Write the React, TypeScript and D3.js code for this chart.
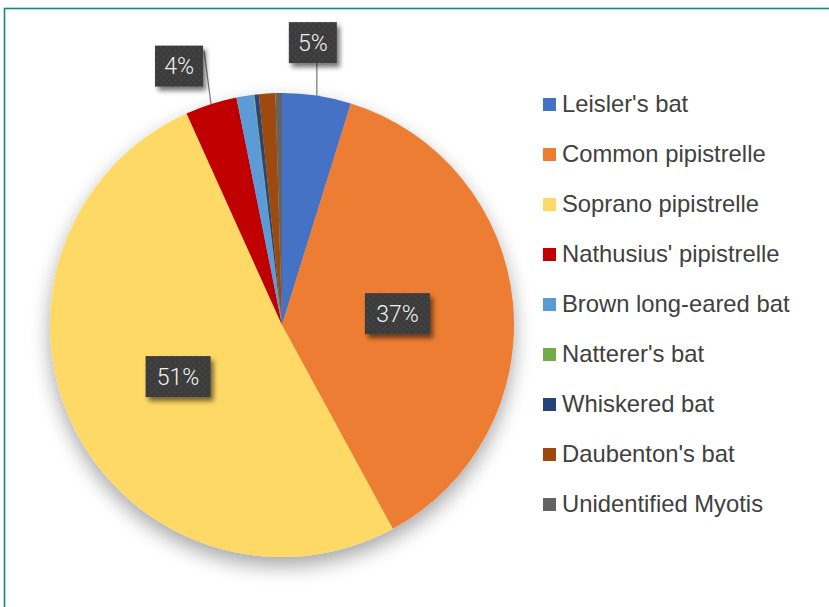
import React from "react";
import * as d3 from "d3";

const categories = [
  "Leisler's bat",
  "Common pipistrelle",
  "Soprano pipistrelle",
  "Nathusius' pipistrelle",
  "Brown long-eared bat",
  "Natterer's bat",
  "Whiskered bat",
  "Daubenton's bat",
  "Unidentified Myotis",
];
const values = [4.8, 37.3, 51.2, 3.6, 1.2, 0.05, 0.3, 1.15, 0.45];
const colors = ["#4472c4", "#ed7d31", "#ffd966", "#c00000", "#5b9bd5", "#70ad47", "#264478", "#9e480e", "#636363"];
const labelTexts = ["5%", "37%", "51%", "4%", "", "", "", "", ""];

const W = 829;
const H = 607;
const cx = 282;
const cy = 325;
const R = 232;

const outsideOffsets: Record<number, [number, number]> = {
  0: [-4, -53],
  3: [-32, -38],
};

export default function App() {
  const pie = d3.pie<number>().sort(null).value((d) => d)(values);
  const arc = d3.arc<d3.PieArcDatum<number>>().innerRadius(0).outerRadius(R);
  const labelArc = d3.arc<d3.PieArcDatum<number>>().innerRadius(R * 0.5).outerRadius(R * 0.5);

  const boxW = (t: string) => (t.length === 2 ? 48 : 65);
  const boxH = 41;

  return (
    <svg width={W} height={H} style={{ position: "absolute", left: 0, top: 0, background: "#fff" }}>
      <defs>
        <filter id="pieShadow" x="-20%" y="-20%" width="140%" height="140%">
          <feGaussianBlur in="SourceAlpha" stdDeviation="10" />
          <feOffset dx="0" dy="9" result="b" />
          <feComponentTransfer>
            <feFuncA type="linear" slope="0.35" />
          </feComponentTransfer>
          <feMerge>
            <feMergeNode />
            <feMergeNode in="SourceGraphic" />
          </feMerge>
        </filter>
        <filter id="boxShadow" x="-30%" y="-30%" width="160%" height="160%">
          <feGaussianBlur in="SourceAlpha" stdDeviation="2.5" />
          <feOffset dx="3" dy="4" />
          <feComponentTransfer>
            <feFuncA type="linear" slope="0.55" />
          </feComponentTransfer>
          <feMerge>
            <feMergeNode />
            <feMergeNode in="SourceGraphic" />
          </feMerge>
        </filter>
        <pattern id="dots" width="6" height="6" patternUnits="userSpaceOnUse">
          <rect width="6" height="6" fill="#3b3b3b" />
          <circle cx="1.5" cy="1.5" r="0.9" fill="#4d4d4d" />
          <circle cx="4.5" cy="4.5" r="0.9" fill="#474747" />
        </pattern>
      </defs>

      <rect x={4.5} y={8.5} width={840} height={620} fill="none" stroke="#128a6c" strokeWidth={1.6} />

      <g transform={`translate(${cx},${cy})`} filter="url(#pieShadow)">
        {pie.map((p, i) => (
          <path key={i} d={arc(p) || ""} fill={colors[i]} />
        ))}
      </g>

      <g transform={`translate(${cx},${cy})`}>
        {pie.map((p, i) => {
          const t = labelTexts[i];
          if (!t) return null;
          const bw = boxW(t);
          let bx: number, by: number;
          let leader: any = null;
          if (outsideOffsets[i]) {
            const mid = (p.startAngle + p.endAngle) / 2;
            const ax = R * Math.sin(mid);
            const ay = -R * Math.cos(mid);
            const [ox, oy] = outsideOffsets[i];
            bx = ax + ox - bw / 2;
            by = ay + oy - boxH / 2;
            const lx = i === 0 ? ax : bx + bw + 1;
            const ly = i === 0 ? by + boxH : by + 5;
            leader = <line x1={lx} y1={ly} x2={ax} y2={ay} stroke="#7f7f7f" strokeWidth={1.3} />;
          } else {
            const [lx, ly] = labelArc.centroid(p);
            bx = lx - bw / 2;
            by = ly - boxH / 2;
          }
          return (
            <g key={i}>
              {leader}
              <g filter="url(#boxShadow)">
                <rect x={bx} y={by} width={bw} height={boxH} fill="url(#dots)" />
              </g>
              <text
                x={bx + bw / 2}
                y={by + boxH / 2 + 8}
                textAnchor="middle"
                fontFamily="Roboto, 'Liberation Sans', Arial, sans-serif"
                fontWeight={300}
                fontSize={23}
                fill="#f2f2f2"
              >
                {t}
              </text>
            </g>
          );
        })}
      </g>

      <g>
        {categories.map((c, i) => (
          <g key={c} transform={`translate(543,${98 + i * 50})`}>
            <rect x={0} y={0} width={13} height={13} fill={colors[i]} />
            <text x={19} y={14} fontFamily="'Liberation Sans', Arial, sans-serif" fontSize={23.8} fill="#404040">
              {c}
            </text>
          </g>
        ))}
      </g>
    </svg>
  );
}
